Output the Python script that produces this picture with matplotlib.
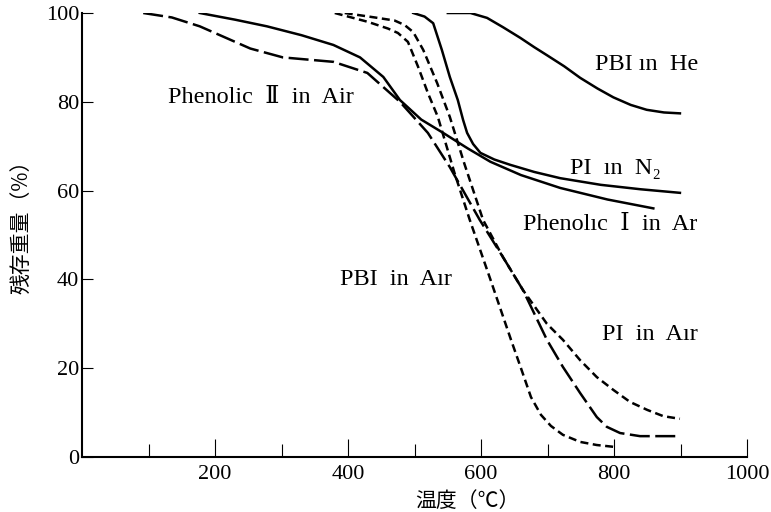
import matplotlib
matplotlib.use("Agg")
import matplotlib.pyplot as plt

# thermogravimetric curves (temperature in C, residual weight in %)
pbi_he_t = [550, 584, 609, 633, 659, 680, 699, 725, 749, 775, 799, 825, 849, 875, 899]
pbi_he_w = [100, 100, 98.9, 96.8, 94.4, 92.3, 90.5, 88, 85.4, 83, 81, 79.3, 78.2, 77.6, 77.4]

pi_n2_t = [498, 515, 528, 541, 553, 565, 573, 579, 588, 599, 620, 644, 680, 719, 780, 840, 899]
pi_n2_w = [100, 99.2, 97.7, 91.7, 85.6, 80.4, 75.9, 73, 70.5, 68.5, 67, 65.8, 64.2, 62.8, 61.3, 60.3, 59.5]

phen1_t = [177, 230, 278, 330, 378, 418, 453, 478, 510, 543, 580, 614, 660, 719, 790, 859]
phen1_w = [100, 98.5, 97, 95, 92.8, 90, 85.6, 80.4, 76, 73, 69.5, 66.5, 63.5, 60.6, 58, 56]

phen2_t = [92, 135, 177, 215, 253, 302, 340, 378, 429, 478, 520, 553, 598, 633, 663,
           699, 723, 749, 774, 789, 809, 839, 895]
phen2_w = [100, 99, 97, 94.5, 92, 90, 89.5, 89, 86.5, 80, 73, 65.3, 53.4, 45, 37.6,
           26.4, 20.3, 14.4, 9, 6.8, 5.4, 4.7, 4.7]

pbi_air_t = [380, 430, 460, 475, 490, 505, 520, 535, 560, 583, 614, 645, 660, 675, 690,
             705, 723, 749, 774, 799]
pbi_air_w = [100, 98, 96.5, 95.5, 93.5, 88, 82, 76.6, 64, 53.4, 40, 26.4, 20, 13.5, 9.5,
             7, 5, 3.4, 2.7, 2.3]

pi_air_t = [395, 440, 470, 485, 498, 513, 534, 553, 575, 603, 633, 663, 699, 723, 749,
            774, 799, 824, 850, 874, 899]
pi_air_w = [100, 99, 98.3, 97.3, 95.7, 91.7, 84.2, 76.6, 66, 53.4, 45, 37.6, 30, 26.4, 21.8,
            18, 15.1, 12.4, 10.6, 9.2, 8.6]

labels = ["PBI ın  He", "Phenolic  Ⅱ  in  Air", "PI  ın  N₂", "Phenolıc  Ⅰ  in  Ar", "PBI  in  Aır", "PI  in  Aır"]
label_x = [771, 129, 734, 663, 388, 782]
label_y = [88.3, 80.9, 65, 52.3, 39.9, 27.5]

xticks_major = [200, 400, 600, 800, 1000]
xticks_minor = [100, 300, 500, 700, 900]
yticks = [0, 20, 40, 60, 80, 100]

serif = ["Liberation Serif", "DejaVu Serif"]
cjk = ["Noto Sans CJK JP", "DejaVu Sans"]

fig = plt.figure(figsize=(7.71, 5.12), dpi=100)
ax = fig.add_axes([0.1064, 0.1074, 0.8626, 0.8672])

long_dash = (0, (8, 2.2))
short_dash = (0, (3.2, 1.8))
ax.plot(pbi_he_t, pbi_he_w, color="black", lw=1.8)
ax.plot(pi_n2_t, pi_n2_w, color="black", lw=1.8)
ax.plot(phen1_t, phen1_w, color="black", lw=1.8)
ax.plot(phen2_t, phen2_w, color="black", lw=1.8, linestyle=long_dash)
ax.plot(pbi_air_t, pbi_air_w, color="black", lw=1.8, linestyle=short_dash)
ax.plot(pi_air_t, pi_air_w, color="black", lw=1.8, linestyle=short_dash)

for s, x, y in zip(labels, label_x, label_y):
    ax.text(x, y, s, ha="left", va="center", fontsize=17.5, family=serif)

ax.set_xlim(0, 1000)
ax.set_ylim(0, 100)
ax.spines["top"].set_visible(False)
ax.spines["right"].set_visible(False)
ax.spines["left"].set_linewidth(1.5)
ax.spines["bottom"].set_linewidth(1.5)

ax.set_xticks(xticks_major)
ax.set_xticks(xticks_minor, minor=True)
ax.set_yticks(yticks)
ax.tick_params(axis="x", which="major", direction="in", length=13, width=0.8, pad=6)
ax.tick_params(axis="x", which="minor", direction="in", length=9.5, width=0.8)
ax.tick_params(axis="y", direction="in", length=8, width=0.8, pad=2)
for lab in ax.get_xticklabels() + ax.get_yticklabels():
    lab.set_family(serif)
    lab.set_fontsize(16)

ax.set_xlabel("温度（℃）", family=cjk, fontsize=15)
ax.xaxis.set_label_coords(0.58, -0.075)
ax.set_ylabel("残存重量（%）", family=cjk, fontsize=15)
ax.yaxis.set_label_coords(-0.075, 0.53)

fig.savefig("out.png", dpi=100)
